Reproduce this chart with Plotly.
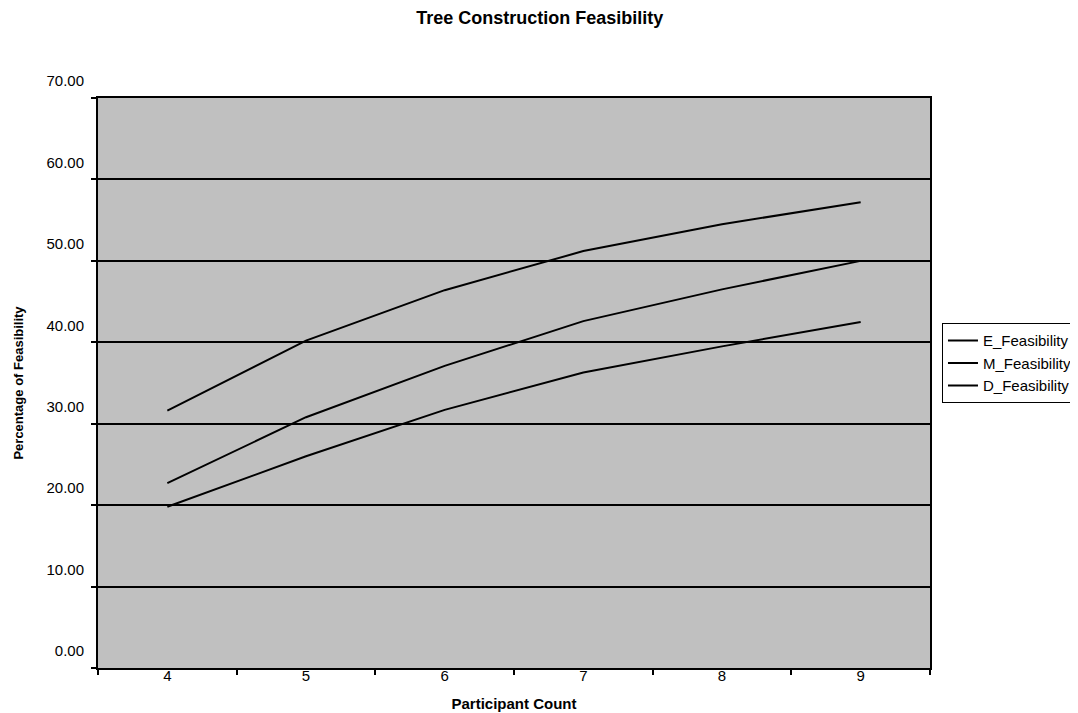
import plotly.graph_objects as go

participants = ["4", "5", "6", "7", "8", "9"]
e_feas = [31.6, 40.2, 46.4, 51.2, 54.5, 57.2]
m_feas = [22.7, 30.8, 37.1, 42.6, 46.5, 50.0]
d_feas = [19.8, 26.0, 31.7, 36.3, 39.5, 42.5]
series_names = ["E_Feasibility", "M_Feasibility", "D_Feasibility"]
y_ticks = [0, 10, 20, 30, 40, 50, 60, 70]

FONT = "Liberation Sans, Arial, sans-serif"

fig = go.Figure()
for name, vals in zip(series_names, [e_feas, m_feas, d_feas]):
    fig.add_trace(go.Scatter(x=participants, y=vals, mode="lines", name=name,
                             line=dict(color="black", width=2)))

# page body has an 8px default margin, so the figure is sized/offset to compensate
fig.update_layout(
    width=1070, height=705,
    margin=dict(l=90, r=148, t=90, b=45, autoexpand=False),
    paper_bgcolor="white", plot_bgcolor="#C0C0C0",
    font=dict(family=FONT, color="black", size=15),
    title=dict(text="<b>Tree Construction Feasibility</b>", x=0.497, xref="container",
               xanchor="center", y=0.986, yref="container", yanchor="middle",
               font=dict(size=18, family=FONT, color="black")),
    legend=dict(x=1.0144, xanchor="left", y=0.605, yanchor="top",
                bgcolor="white", bordercolor="black", borderwidth=1,
                font=dict(size=15, family=FONT, color="black"),
                itemwidth=30, tracegroupgap=0),
    showlegend=True,
)

fig.update_xaxes(
    type="category", range=[-0.5, 5.5], tickson="boundaries", automargin=False,
    ticks="outside", ticklen=5, tickwidth=2, tickcolor="black",
    showline=True, linecolor="black", linewidth=2, mirror=True,
    showgrid=False, zeroline=False,
    tickfont=dict(size=15), ticklabelstandoff=-7,
    title=dict(text="<b>Participant Count</b>", font=dict(size=15), standoff=15),
)
fig.update_yaxes(
    range=[0, 70], tickvals=y_ticks, ticktext=[f"{v:.2f}" for v in y_ticks],
    automargin=False,
    ticks="outside", ticklen=5, tickwidth=2, tickcolor="black",
    showline=True, linecolor="black", linewidth=2, mirror=True,
    showgrid=True, gridcolor="black", gridwidth=2, zeroline=False,
    tickfont=dict(size=15), ticklabelshift=-17, ticklabelstandoff=4,
    title=dict(text="<b>Percentage of Feasibility</b>", font=dict(size=13), standoff=20),
)

fig.write_html("out.html")
